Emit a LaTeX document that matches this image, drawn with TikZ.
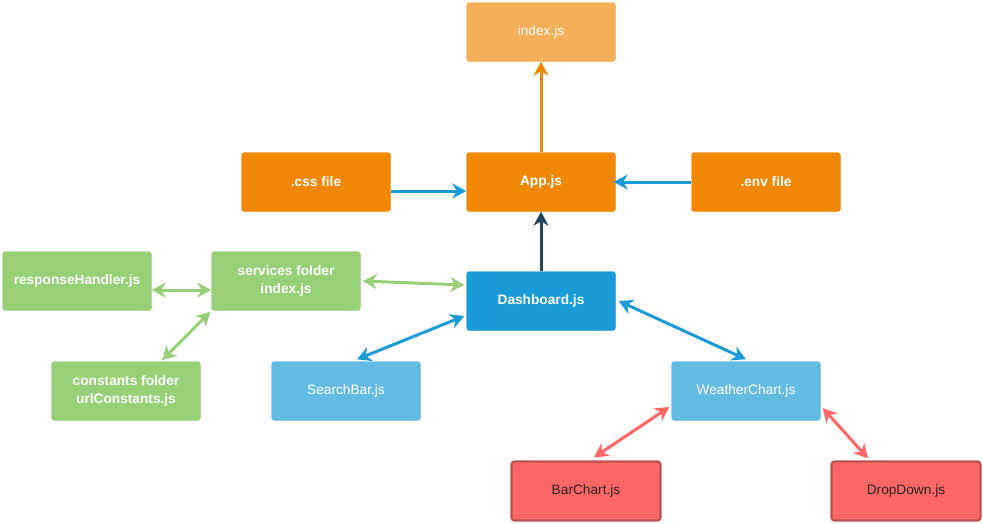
\documentclass[tikz,border=0pt]{standalone}
\usepackage{fontspec}
\setmainfont{Liberation Sans}
\usetikzlibrary{arrows.meta,calc}
\definecolor{lorange}{HTML}{F5AF58}
\definecolor{dorange}{HTML}{F08705}
\definecolor{lgreen}{HTML}{97D077}
\definecolor{dblue}{HTML}{1A9BD7}
\definecolor{lblue}{HTML}{64BBE2}
\definecolor{lred}{HTML}{FF6666}
\definecolor{redborder}{HTML}{B85450}
\definecolor{navy}{HTML}{23445D}
\definecolor{ablue}{HTML}{1A9BD7}
\tikzset{
  box/.style={rectangle, rounded corners=3pt, minimum width=149pt, minimum height=59pt, inner sep=0pt, align=center, font=\fontsize{13.7}{17.5}\selectfont, text=white},
  orangebox/.style={box, fill=dorange, draw=dorange, font=\fontsize{13.7}{17.5}\selectfont\bfseries},
  lorangebox/.style={box, fill=lorange, draw=lorange},
  greenbox/.style={box, fill=lgreen, draw=lgreen, font=\fontsize{13.7}{17.5}\selectfont\bfseries},
  dbluebox/.style={box, fill=dblue, draw=dblue, font=\fontsize{13.7}{17.5}\selectfont\bfseries},
  lbluebox/.style={box, fill=lblue, draw=lblue},
  redbox/.style={box, fill=lred, draw=redborder, line width=2.2pt, text=black!85},
  tipA/.tip={Stealth[length=14pt,width=15pt,inset=4.5pt]},
  conn/.style={line width=3pt, -tipA},
  dconn/.style={line width=3pt, tipA-tipA},
}
\begin{document}
\begin{tikzpicture}[x=1pt,y=-1pt]
\useasboundingbox (0,0) rectangle (983,523);
\node[lorangebox] (index) at (541,32) {index.js};
\node[orangebox] (app) at (541,182) {App.js};
\node[orangebox] (css) at (316,182) {.css file};
\node[orangebox] (env) at (766,182) {.env file};
\node[greenbox] (resp) at (77,281) {responseHandler.js};
\node[greenbox] (serv) at (286,281) {services folder\\index.js};
\node[dbluebox] (dash) at (541,301) {Dashboard.js};
\node[greenbox] (const) at (126,391) {constants folder\\urlConstants.js};
\node[lbluebox] (search) at (346,391) {SearchBar.js};
\node[lbluebox] (weather) at (746,391) {WeatherChart.js};
\node[redbox] (bar) at (586,491) {BarChart.js};
\node[redbox] (drop) at (906,491) {DropDown.js};

\draw[conn, dorange] (app.north) -- (index.south);
\draw[conn, ablue] ([yshift=-9pt]css.east) -- ([yshift=-9pt]app.west);
\draw[conn, ablue] (env.west) -- ([xshift=-2pt]app.east);
\draw[conn, navy] (dash.north) -- (app.south);
\draw[dconn, lgreen] ([xshift=2pt]serv.east) -- ([yshift=16pt,xshift=-2pt]dash.west);
\draw[dconn, lgreen] ([yshift=-9pt]resp.east) -- ([yshift=-9pt]serv.west);
\draw[dconn, lgreen] ([xshift=-1pt,yshift=-1pt]serv.south west) -- ([xshift=36pt,yshift=1pt]const.north);
\draw[dconn, ablue] ([yshift=-15pt,xshift=-2pt]dash.west) -- ([xshift=11pt,yshift=2pt]search.north);
\draw[dconn, ablue] ([xshift=3pt]dash.east) -- ([yshift=2pt]weather.north);
\draw[dconn, lred] ([yshift=-16pt,xshift=-2pt]weather.west) -- ([xshift=8pt,yshift=3pt]bar.north);
\draw[dconn, lred] ([yshift=-17pt,xshift=2pt]weather.east) -- ([xshift=-38pt,yshift=2pt]drop.north);
\end{tikzpicture}
\end{document}
